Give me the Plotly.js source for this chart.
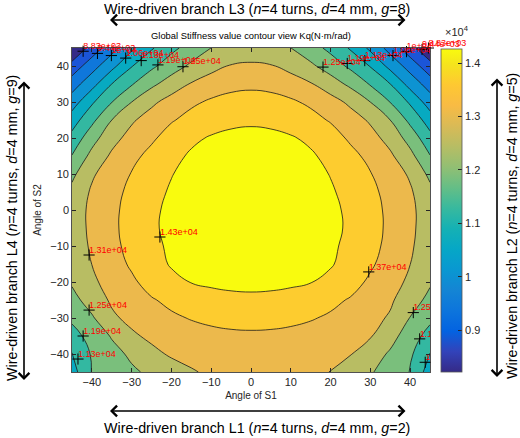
<!DOCTYPE html>
<html><head><meta charset="utf-8">
<script src="https://cdn.plot.ly/plotly-3.0.1.min.js"></script>
<style>html,body{margin:0;padding:0;background:#fff}#chart{width:520px;height:438px}</style>
</head><body><div id="chart"></div>
<script>
// ---- data ----
const angleS1 = [-45,-40,-35,-30,-25,-20,-15,-10,-5,0,5,10,15,20,25,30,35,40,45];
const angleS2 = [-45,-40,-35,-30,-25,-20,-15,-10,-5,0,5,10,15,20,25,30,35,40,45];
// stiffness Kq (N·m/rad); one row per Angle of S2 (bottom to top), columns follow Angle of S1
const kqS2m45 = [11000,11879,12119,12359,12583,12794,13006,13173,13268,13300,13306,13268,13183,13054,12787,12519,12192,11837,10950];
const kqS2m40 = [11220,11920,12247,12576,12908,13143,13264,13351,13403,13420,13415,13370,13300,13200,13090,12750,12380,11961,11230];
const kqS2m35 = [11648,12055,12511,12964,13194,13333,13441,13518,13565,13580,13567,13528,13462,13371,13254,13110,12675,12154,11628];
const kqS2m30 = [11960,12384,12960,13223,13417,13577,13703,13793,13847,13865,13849,13797,13712,13590,13430,13240,13000,12440,11990];
const kqS2m25 = [12260,12731,13150,13398,13620,13810,13963,14075,14143,14166,14143,14075,13963,13810,13620,13398,13150,12731,12300];
const kqS2m20 = [12530,12960,13276,13564,13902,14150,14292,14368,14402,14412,14402,14368,14292,14150,13902,13564,13276,12960,12530];
const kqS2m15 = [12700,13070,13405,13757,14092,14317,14460,14546,14590,14604,14590,14546,14460,14317,14092,13757,13405,13070,12700];
const kqS2m10 = [12770,13136,13503,13855,14142,14366,14533,14649,14718,14740,14718,14649,14533,14366,14142,13855,13503,13136,12770];
const kqS2m5  = [12800,13172,13545,13895,14185,14418,14596,14723,14798,14823,14798,14723,14596,14418,14185,13895,13545,13172,12800];
const kqS2p0  = [12790,13180,13538,13874,14162,14405,14597,14737,14822,14850,14822,14737,14597,14405,14162,13874,13538,13180,12790];
const kqS2p5  = [12620,13141,13485,13809,14092,14341,14546,14698,14791,14823,14791,14698,14546,14341,14092,13809,13485,13141,12620];
const kqS2p10 = [12320,12987,13362,13698,13994,14252,14462,14617,14712,14744,14712,14617,14462,14252,13994,13698,13362,12987,12320];
const kqS2p15 = [11880,12638,13161,13505,13847,14130,14344,14494,14583,14612,14583,14494,14344,14130,13847,13505,13161,12638,11880];
const kqS2p20 = [11440,12223,12863,13271,13570,13931,14174,14322,14401,14426,14401,14322,14174,13931,13570,13271,12863,12223,11440];
const kqS2p25 = [10960,11699,12458,12984,13332,13618,13857,14038,14149,14187,14149,14038,13857,13618,13332,12984,12458,11699,10960];
const kqS2p30 = [10340,11161,11839,12458,12940,13298,13566,13751,13860,13896,13860,13751,13566,13298,12940,12458,11839,11161,10340];
const kqS2p35 = [9760,10418,11252,11804,12327,12742,13110,13356,13503,13552,13503,13356,13110,12742,12327,11804,11252,10418,9760];
const kqS2p40 = [9047,9791,10460,11218,11730,12183,12570,12870,13105,13154,13105,12870,12570,12183,11730,11218,10460,9791,9047];
const kqS2p45 = [8225,9057,9813,10511,11183,11696,12103,12465,12656,12720,12656,12465,12103,11696,11183,10511,9813,9057,8300];
const stiffness = [kqS2m45,kqS2m40,kqS2m35,kqS2m30,kqS2m25,kqS2m20,kqS2m15,kqS2m10,kqS2m5,kqS2p0,
                   kqS2p5,kqS2p10,kqS2p15,kqS2p20,kqS2p25,kqS2p30,kqS2p35,kqS2p40,kqS2p45];
const levelStart = 8830, levelEnd = 14275, levelStep = 605;
const colorMin = 8225, colorMax = 14275;
const cbTickVals = [9000,10000,11000,12000,13000,14000];
const cbTickText = ['0.9','1','1.1','1.2','1.3','1.4'];
const xTicks = [-40,-30,-20,-10,0,10,20,30,40];
const yTicks = [-40,-30,-20,-10,0,10,20,30,40];

// contour labels (clabel): marker positions and texts
const topLabelX = [-42.2,-38.6,-35.1,-31.5,-27.6,-23.4,-17.1, 18.1,24.2,28.6,35.7,39.1,43.0,44.6];
const topLabelY = [44.1,43.5,42.9,42.2,41.5,40.3,39.8, 39.7,40.7,41.5,42.9,44.0,44.6,45.0];
const topLabelText = ['8.83e+03','9.44e+03','1e+04','1.06e+04','1.13e+04','1.19e+04','1.25e+04',
                      '1.25e+04','1.19e+04','1.13e+04','1.06e+04','1e+04','9.44e+03','8.83e+03'];
const midLabelX = [-22.9,-40.7,-40.7,-42.2,-43.5, 29.6];
const midLabelY = [-7.5,-12.5,-27.8,-35.0,-41.4, -17.2];
const midLabelText = ['1.43e+04','1.31e+04','1.25e+04','1.19e+04','1.13e+04','1.37e+04'];
const edgeLabelX = [40.8,42.4,43.8];
const edgeLabelY = [-28.5,-35.8,-42.3];
const edgeLabelText = ['1.25e+04','1.19e+04','1.13e+04'];

const titleText = 'Global Stiffness value contour view Kq(N·m/rad)';
const topNote = 'Wire-driven branch L3 (<i>n</i>=4 turns, <i>d</i>=4 mm, <i>g</i>=8)';
const rightNote = 'Wire-driven branch L2 (<i>n</i>=4 turns, <i>d</i>=4 mm, <i>g</i>=5)';
const bottomNote = 'Wire-driven branch L1 (<i>n</i>=4 turns, <i>d</i>=4 mm, <i>g</i>=2)';
const leftNote = 'Wire-driven branch L4 (<i>n</i>=4 turns, <i>d</i>=4 mm, <i>g</i>=9)';

// ---- styling ----
const parulaBands = [
  [0.0,'rgb(53,42,135)'],[0.1,'rgb(27,85,215)'],[0.2,'rgb(15,119,219)'],[0.3,'rgb(13,147,210)'],
  [0.4,'rgb(7,170,193)'],[0.5,'rgb(51,184,161)'],[0.6,'rgb(122,191,124)'],[0.7,'rgb(184,189,99)'],
  [0.8,'rgb(236,185,76)'],[0.9,'rgb(253,204,47)'],[1.0,'rgb(249,251,14)']];
const parulaRaw = [
 [0.2081,0.1663,0.5292],[0.1959,0.2645,0.7279],[0.0117,0.3875,0.8820],[0.0498,0.4586,0.8641],
 [0.0793,0.5200,0.8312],[0.0343,0.5966,0.8199],[0.0228,0.6535,0.7768],[0.0843,0.6928,0.7062],
 [0.2178,0.7250,0.6193],[0.3953,0.7459,0.5244],[0.5709,0.7485,0.4494],[0.7184,0.7411,0.3905],
 [0.8507,0.7299,0.3360],[0.9739,0.7314,0.2666],[0.9955,0.7861,0.1967],[0.9589,0.8949,0.1132],
 [0.9763,0.9831,0.0538]];
const parulaIdx = [0,4,8,12,16,20,24,28,32,36,40,44,48,52,56,60,63];
const parulaFull = parulaRaw.map((c,i)=>[parulaIdx[i]/63,
  'rgb('+c.map(v=>Math.round(v*255)).join(',')+')']);

const FONT = 'Liberation Sans, Arial, Helvetica, sans-serif';
const AX = '#262626';

// plot area in pixels: x 72..430, y 48..372
const L = 72, R = 430, T = 48, B = 372;
const px = v => (v - L) / (R - L);
const py = v => (B - v) / (B - T);

const traces = [
  {
    type: 'contour', x: angleS1, y: angleS2, z: stiffness,
    autocontour: false,
    contours: {start: levelStart, end: levelEnd, size: levelStep, coloring: 'fill', showlabels: false},
    colorscale: parulaBands, showscale: false,
    line: {color: '#1a1a1a', width: 0.8, smoothing: 1.3},
    hoverinfo: 'skip'
  },
  {
    type: 'heatmap', x: [1000, 1001], y: [1000], z: [[colorMin, colorMax]],
    zmin: colorMin, zmax: colorMax, colorscale: parulaFull, hoverinfo: 'skip',
    colorbar: {
      x: px(441), xanchor: 'left', xpad: 0, ypad: 0,
      y: 0.5, yanchor: 'middle', lenmode: 'pixels', len: 323,
      thickness: 21, outlinewidth: 0.8, outlinecolor: '#555',
      tickvals: cbTickVals, ticktext: cbTickText,
      ticks: 'inside', ticklen: 4, tickcolor: AX,
      tickfont: {family: FONT, size: 11, color: AX}
    }
  }
];
function labelTraces(xs, ys, texts, clip) {
  return [{
    type: 'scatter', mode: 'markers', x: xs, y: ys, cliponaxis: false,
    marker: {symbol: 'cross-thin', size: 8, line: {color: '#000', width: 1}},
    hoverinfo: 'skip', showlegend: false
  }, {
    type: 'scatter', mode: 'text', x: xs, y: ys, text: texts,
    textposition: 'top right', cliponaxis: clip,
    textfont: {family: FONT, size: 9, color: '#ff0000'},
    hoverinfo: 'skip', showlegend: false
  }];
}
traces.push(...labelTraces(topLabelX, topLabelY, topLabelText, false));
traces.push(...labelTraces(midLabelX, midLabelY, midLabelText, true));
traces.push(...labelTraces(edgeLabelX, edgeLabelY, edgeLabelText, true));

const noteFont = {family: FONT, size: 14.3, color: '#000'};
const arrowCommon = {text: '', showarrow: true, arrowside: 'end+start', arrowhead: 4,
  arrowsize: 1.3, arrowwidth: 1.6, arrowcolor: '#000', xref: 'paper', yref: 'paper'};

const layout = {
  width: 520, height: 438,
  margin: {l: L, r: 520 - R, t: T, b: 438 - B, pad: 0},
  paper_bgcolor: '#fff', plot_bgcolor: '#fff',
  font: {family: FONT, color: AX},
  showlegend: false,
  title: {text: titleText, font: {family: FONT, size: 9.4, color: '#000'},
          x: 0.5, xref: 'paper', xanchor: 'center', y: 1 - 36/438, yref: 'container', yanchor: 'middle'},
  xaxis: {range: [-45, 45], tickvals: xTicks, ticks: 'inside', ticklen: 4, tickcolor: AX,
          showline: true, linecolor: AX, linewidth: 0.8, mirror: 'ticks', showgrid: false, zeroline: false,
          tickfont: {family: FONT, size: 11, color: AX},
          title: {text: 'Angle of S1', font: {family: FONT, size: 10, color: AX}, standoff: 4}},
  yaxis: {range: [-45, 45], tickvals: yTicks, ticks: 'inside', ticklen: 4, tickcolor: AX,
          showline: true, linecolor: AX, linewidth: 0.8, mirror: 'ticks', showgrid: false, zeroline: false,
          tickfont: {family: FONT, size: 11, color: AX},
          title: {text: 'Angle of S2', font: {family: FONT, size: 10, color: AX}, standoff: 6}},
  annotations: [
    {text: topNote, x: px(257), y: py(9), xref: 'paper', yref: 'paper', showarrow: false,
     xanchor: 'center', yanchor: 'middle', font: noteFont},
    {text: bottomNote, x: px(257), y: py(428), xref: 'paper', yref: 'paper', showarrow: false,
     xanchor: 'center', yanchor: 'middle', font: noteFont},
    {text: leftNote, x: px(12), y: py(228), xref: 'paper', yref: 'paper', showarrow: false,
     xanchor: 'center', yanchor: 'middle', textangle: -90, font: noteFont},
    {text: rightNote, x: px(512), y: py(226), xref: 'paper', yref: 'paper', showarrow: false,
     xanchor: 'center', yanchor: 'middle', textangle: -90, font: noteFont},
    Object.assign({x: px(110), y: py(20), ax: 297, ay: 0}, arrowCommon),
    Object.assign({x: px(110), y: py(411), ax: 297, ay: 0}, arrowCommon),
    Object.assign({x: px(24), y: py(380), ax: 0, ay: -300}, arrowCommon),
    Object.assign({x: px(497), y: py(377), ax: 0, ay: -300}, arrowCommon),
    {text: '×10<sup>4</sup>', x: px(443), y: py(31), xref: 'paper', yref: 'paper', showarrow: false,
     xanchor: 'left', yanchor: 'middle', font: {family: FONT, size: 11, color: AX}}
  ]
};
Plotly.newPlot('chart', traces, layout, {staticPlot: true, displayModeBar: false});
</script></body></html>
